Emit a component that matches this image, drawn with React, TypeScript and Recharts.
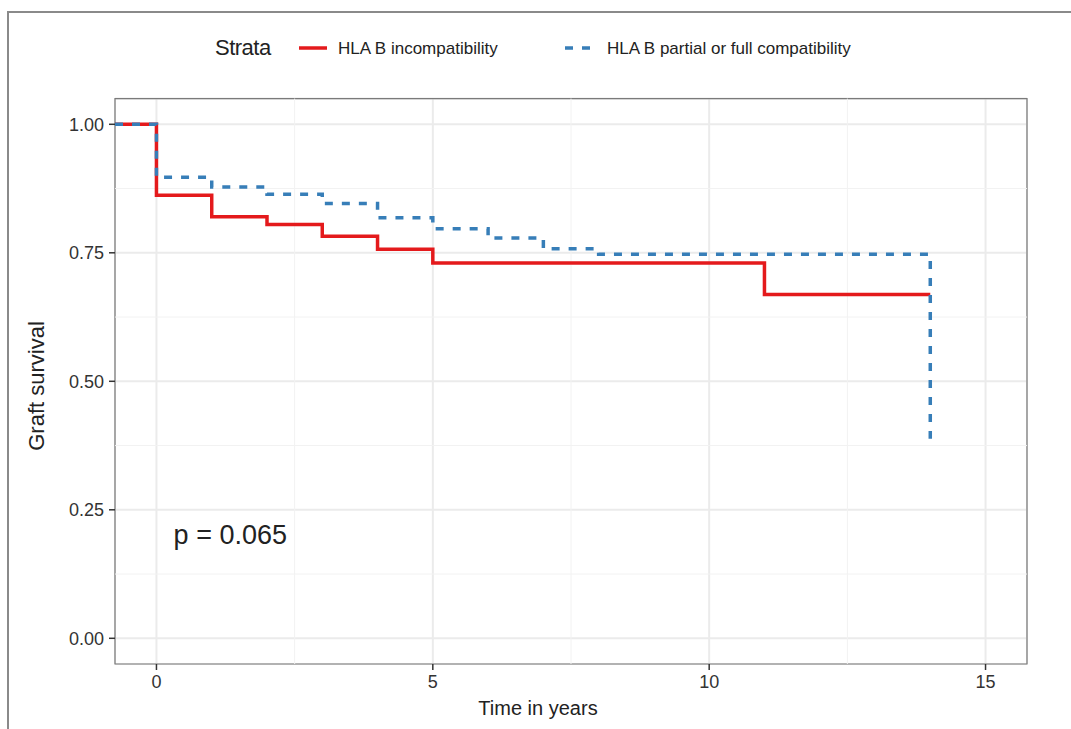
import {
  LineChart,
  Line,
  XAxis,
  YAxis,
  CartesianGrid,
  ReferenceLine,
  ReferenceArea,
  ReferenceDot,
} from 'recharts';

// Kaplan-Meier estimates
const incompatTime = [-0.75, 0, 1, 2, 3, 4, 5, 11, 14];
const incompatSurv = [1, 0.862, 0.82, 0.805, 0.782, 0.757, 0.73, 0.669, 0.669];
const compatTime = [-0.75, 0, 1, 2, 3, 4, 5, 6, 7, 8, 14];
const compatSurv = [1, 0.897, 0.878, 0.864, 0.846, 0.818, 0.797, 0.779, 0.758, 0.747, 0.388];

const xTicks = [0, 5, 10, 15];
const yTicks = [0, 0.25, 0.5, 0.75, 1];
const xMinor = [2.5, 7.5, 12.5];
const yMinor = [0.125, 0.375, 0.625, 0.875];

const RED = '#E41A1C';
const BLUE = '#377EB8';
const FONT = '"Liberation Sans", Arial, sans-serif';

const incompatData = incompatTime.map((t, i) => ({ t, s: incompatSurv[i] }));
const compatData = compatTime.map((t, i) => ({ t, s: compatSurv[i] }));

export default function App() {
  return (
    <div
      style={{
        position: 'absolute',
        left: 0,
        top: 0,
        width: 1071,
        height: 729,
        overflow: 'hidden',
        background: '#fff',
        fontFamily: FONT,
      }}
    >
      {/* outer frame */}
      <div
        style={{
          position: 'absolute',
          left: 7,
          top: 11,
          width: 1100,
          height: 800,
          border: '2px solid #8a8a8a',
        }}
      />

      {/* legend */}
      <div style={{ position: 'absolute', left: 215, top: 35, fontSize: 22, color: '#222', letterSpacing: -0.5 }}>
        Strata
      </div>
      <svg style={{ position: 'absolute', left: 299, top: 44 }} width={30} height={8}>
        <line x1={0} y1={4} x2={28} y2={4} stroke={RED} strokeWidth={3.5} />
      </svg>
      <div style={{ position: 'absolute', left: 338, top: 39, fontSize: 17, color: '#222' }}>
        HLA B incompatibility
      </div>
      <svg style={{ position: 'absolute', left: 565, top: 44 }} width={30} height={8}>
        <line x1={0} y1={4} x2={28} y2={4} stroke={BLUE} strokeWidth={3.5} strokeDasharray="8 9" />
      </svg>
      <div style={{ position: 'absolute', left: 607, top: 39, fontSize: 17, color: '#222' }}>
        HLA B partial or full compatibility
      </div>

      {/* axis titles */}
      <div
        style={{
          position: 'absolute',
          left: 37,
          top: 386,
          transform: 'translate(-50%, -50%) rotate(-90deg)',
          fontSize: 22,
          color: '#222',
          whiteSpace: 'nowrap',
        }}
      >
        Graft survival
      </div>
      <div
        style={{
          position: 'absolute',
          left: 538,
          top: 708,
          transform: 'translate(-50%, -50%)',
          fontSize: 20,
          color: '#222',
          whiteSpace: 'nowrap',
        }}
      >
        Time in years
      </div>

      <div style={{ position: 'absolute', left: 0, top: 0 }}>
        <LineChart
          width={1071}
          height={729}
          margin={{ top: 98.6, right: 44, bottom: 35, left: 55 }}
          style={{ fontFamily: FONT }}
        >
          <CartesianGrid stroke="#EBEBEB" strokeWidth={2} />
          {xMinor.map((x) => (
            <ReferenceLine key={`xm-${x}`} x={x} stroke="#F2F2F2" strokeWidth={1} />
          ))}
          {yMinor.map((y) => (
            <ReferenceLine key={`ym-${y}`} y={y} stroke="#F2F2F2" strokeWidth={1} />
          ))}
          <XAxis
            type="number"
            dataKey="t"
            domain={[-0.75, 15.75]}
            ticks={xTicks}
            allowDataOverflow
            axisLine={false}
            tickSize={6}
            tickMargin={5}
            tickLine={{ stroke: '#333', strokeWidth: 1.5 }}
            tick={{ fontSize: 18, fill: '#333' }}
            height={30}
          />
          <YAxis
            type="number"
            domain={[-0.05, 1.05]}
            ticks={yTicks}
            allowDataOverflow
            axisLine={false}
            tickSize={6}
            tickMargin={5}
            tickLine={{ stroke: '#333', strokeWidth: 1.5 }}
            tick={{ fontSize: 18, fill: '#333' }}
            tickFormatter={(v: number) => v.toFixed(2)}
            width={60}
          />
          <ReferenceArea
            x1={-0.75}
            x2={15.75}
            y1={-0.05}
            y2={1.05}
            fill="none"
            stroke="#7a7a7a"
            strokeWidth={1.2}
            ifOverflow="visible"
          />
          <Line
            data={incompatData}
            dataKey="s"
            type="stepAfter"
            stroke={RED}
            strokeWidth={3.5}
            dot={false}
            isAnimationActive={false}
          />
          <Line
            data={compatData}
            dataKey="s"
            type="stepAfter"
            stroke={BLUE}
            strokeWidth={3.5}
            strokeDasharray="8 9"
            dot={false}
            isAnimationActive={false}
          />
          <ReferenceDot
            x={0.22}
            y={0.202}
            r={0}
            fill="none"
            stroke="none"
            label={{ value: 'p = 0.065', position: 'right', fontSize: 27, fill: '#222' }}
          />
        </LineChart>
      </div>
    </div>
  );
}
